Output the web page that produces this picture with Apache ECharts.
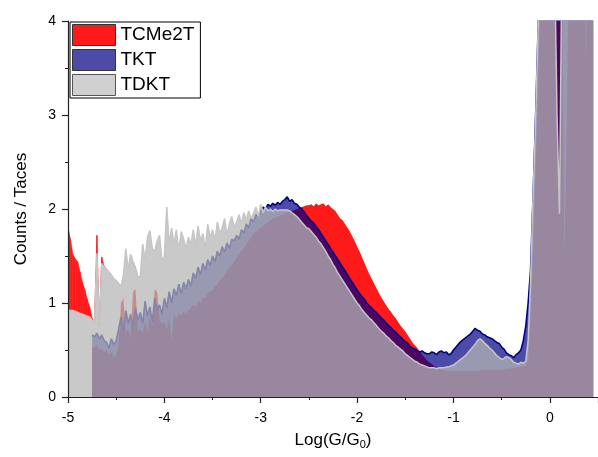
<!DOCTYPE html>
<html><head><meta charset="utf-8">
<script src="https://cdn.jsdelivr.net/npm/echarts@6/dist/echarts.min.js"></script>
<style>html,body{margin:0;padding:0;background:#fff}#c{width:598px;height:457px}</style>
</head><body><div id="c"></div>
<script>
// histogram bins: x = -5 + 0.025*i
const X_START = -5, X_STEP = 0.025;

const seriesNames = ['TCMe2T', 'TKT', 'TDKT'];

const tcme2t = [
 null,null,null,null,null,null,null,null,null,null,
 0.53,0.52,0.55,0.50,0.52,0.48,0.50,0.45,0.48,0.42,
 0.45,0.55,1.00,1.05,0.68,0.72,0.62,1.12,1.15,0.70,
 0.72,0.68,0.80,0.70,0.85,0.75,1.15,1.12,0.82,0.78,
 0.80,0.72,0.85,0.60,0.88,0.82,0.90,0.86,0.92,0.88,
 0.92,0.95,0.98,0.96,1.02,1.00,1.06,1.05,1.10,1.12,
 1.14,1.18,1.20,1.24,1.26,1.30,1.34,1.38,1.40,1.44,
 1.48,1.52,1.55,1.58,1.62,1.66,1.70,1.73,1.76,1.78,
 1.80,1.82,1.84,1.86,1.88,1.90,1.91,1.92,1.93,1.94,
 1.95,1.96,1.97,1.98,1.99,2.00,2.01,2.02,2.03,2.04,
 2.04,2.05,2.03,2.06,2.04,2.05,2.06,2.03,2.05,2.02,
 2.00,1.98,1.94,1.90,1.88,1.84,1.80,1.76,1.71,1.66,
 1.60,1.55,1.49,1.43,1.37,1.31,1.26,1.21,1.16,1.11,
 1.06,1.02,0.98,0.94,0.91,0.87,0.84,0.80,0.76,0.73,
 0.70,0.66,0.62,0.58,0.55,0.52,0.49,0.45,0.42,0.39,
 0.37,0.35,0.33,0.31,0.30,0.29,0.29,0.28,0.28,0.28,
 0.28,0.28,0.28,0.28,0.28,0.28,0.28,0.28,0.28,0.28,
 0.28,0.28,0.29,0.29,0.29,0.29,0.29,0.29,0.29,0.29,
 0.29,0.29,0.30,0.30,0.30,0.31,0.31,0.32,0.32,0.33,
 0.33,0.40,0.80,1.50,2.30,3.20,4.20,5,5,5,
 5,5,5,5,5,5,1.5,2.8,5,5,
 5,5,5,5,5,3.6,5,5,5
];
// red tops of the first bins (-5 ... -4.575), seen above the TDKT fill
const tcme2tLowTail = [
 1.81,1.68,1.52,1.47,1.44,1.33,1.22,1.14,1.04,0.96,
 0.84,0.80,1.72,0.73,1.49,1.39,1.36,1.33
];
const tkt = [
 null,null,null,null,null,null,null,null,null,null,
 0.66,0.64,0.68,0.62,0.66,0.60,0.58,0.52,0.62,0.56,
 0.60,0.72,0.85,0.70,0.92,0.78,0.88,0.74,0.95,0.82,
 0.90,0.78,1.02,0.86,0.96,0.80,1.05,0.92,0.98,0.88,
 1.05,0.95,1.12,1.00,1.15,1.08,1.20,1.10,1.22,1.15,
 1.25,1.18,1.32,1.26,1.38,1.30,1.42,1.35,1.46,1.40,
 1.50,1.44,1.55,1.50,1.60,1.54,1.64,1.58,1.68,1.66,
 1.72,1.68,1.78,1.74,1.84,1.80,1.90,1.86,1.94,1.92,
 1.98,2.02,2.00,2.05,2.03,2.06,2.04,2.07,2.05,2.08,
 2.10,2.13,2.08,2.10,2.06,2.05,2.02,2.00,1.97,1.93,
 1.90,1.87,1.85,1.81,1.78,1.74,1.70,1.66,1.62,1.58,
 1.54,1.50,1.46,1.42,1.38,1.34,1.30,1.26,1.22,1.18,
 1.14,1.10,1.07,1.04,1.00,0.97,0.95,0.92,0.90,0.87,
 0.84,0.82,0.79,0.76,0.74,0.71,0.69,0.66,0.64,0.61,
 0.59,0.57,0.54,0.52,0.51,0.49,0.48,0.49,0.47,0.46,
 0.46,0.48,0.47,0.45,0.48,0.49,0.47,0.48,0.45,0.46,
 0.50,0.53,0.56,0.59,0.61,0.63,0.65,0.67,0.70,0.73,
 0.71,0.70,0.67,0.66,0.64,0.63,0.62,0.60,0.58,0.57,
 0.53,0.51,0.47,0.45,0.44,0.42,0.45,0.47,0.50,0.60,
 0.75,1.00,1.35,2.10,2.90,3.80,4.60,5,5,5,
 5,5,5,5,5,5,5,5,5,5,
 5,5,5,5,5,5,5,5,5
];
const tdkt = [
 0.93,0.92,0.92,0.91,0.90,0.89,0.88,0.87,0.86,0.85,
 0.82,0.80,1.53,0.76,1.42,1.38,1.35,1.33,1.30,1.26,
 1.24,1.21,1.17,1.30,1.58,1.35,1.52,1.44,1.38,1.28,
 1.28,1.63,1.46,1.70,1.77,1.58,1.55,1.66,1.72,1.45,
 1.50,2.02,1.62,1.80,1.62,1.78,1.55,1.76,1.68,1.58,
 1.70,1.62,1.78,1.60,1.82,1.66,1.74,1.58,1.84,1.70,
 1.78,1.66,1.86,1.74,1.80,1.90,1.72,1.84,1.92,1.80,
 1.86,1.94,1.84,1.96,1.88,1.98,1.90,1.95,2.02,1.92,
 2.05,1.96,2.02,1.98,2.00,1.97,2.00,1.98,1.99,1.99,
 1.99,1.99,1.98,1.96,1.94,1.92,1.89,1.86,1.83,1.80,
 1.79,1.76,1.73,1.70,1.66,1.63,1.59,1.55,1.50,1.46,
 1.41,1.37,1.32,1.28,1.24,1.20,1.16,1.12,1.08,1.04,
 1.00,0.97,0.93,0.90,0.87,0.84,0.82,0.79,0.76,0.73,
 0.70,0.68,0.65,0.63,0.60,0.58,0.55,0.53,0.51,0.49,
 0.46,0.44,0.42,0.40,0.38,0.37,0.35,0.34,0.33,0.32,
 0.31,0.31,0.31,0.30,0.31,0.31,0.31,0.32,0.32,0.33,
 0.34,0.36,0.38,0.40,0.42,0.44,0.47,0.50,0.53,0.56,
 0.60,0.62,0.60,0.57,0.55,0.52,0.50,0.47,0.44,0.42,
 0.40,0.41,0.43,0.42,0.40,0.37,0.36,0.35,0.37,0.36,
 0.38,0.60,1.23,2.10,2.85,3.80,4.60,5,5,5,
 5,5,4.6,3.0,1.95,4.6,5,5,5,5,
 5,5,5,5,5,5,5,5,5
];

const xTicks = [-5, -4, -3, -2, -1, 0];
const yTicks = [0, 1, 2, 3, 4];

const xs = tdkt.map((_, i) => +(X_START + i * X_STEP).toFixed(3));
const pairs = arr => xs.map((x, i) => [x, (i < arr.length && arr[i] != null) ? arr[i] : null]);
// low-tail red band: from the TDKT level up to the red top, bin to bin
const tailItems = [];
for (let i = 0; i < tcme2tLowTail.length - 1; i++) {
  tailItems.push([xs[i], tdkt[i], Math.max(tcme2tLowTail[i], tdkt[i]),
                  xs[i + 1], tdkt[i + 1], Math.max(tcme2tLowTail[i + 1], tdkt[i + 1])]);
}

const FONT = 'Liberation Sans, Arial, sans-serif';
const AX = '#222';
const RED = '#ff1a1a', NAVY = '#000080', GREY = '#b6b6b6';

const chart = echarts.init(document.getElementById('c'), null, {renderer: 'canvas'});
chart.setOption({
  animation: false,
  backgroundColor: '#fff',
  textStyle: {fontFamily: FONT},
  grid: {left: 68, right: -7, top: 21, bottom: 60, containLabel: false},
  legend: {
    left: 70, top: 22, orient: 'vertical', icon: 'rect', z: 10,
    itemWidth: 43, itemHeight: 21, itemGap: 3,
    padding: [2, 6, 2, 2],
    borderColor: '#000', borderWidth: 1, backgroundColor: '#fff',
    textStyle: {fontFamily: FONT, fontSize: 19, color: '#000'},
    data: [
      {name: seriesNames[0], itemStyle: {color: RED, borderColor: '#333', borderWidth: 1}},
      {name: seriesNames[1], itemStyle: {color: '#4c4ca6', borderColor: '#333', borderWidth: 1}},
      {name: seriesNames[2], itemStyle: {color: '#d0d0d0', borderColor: '#555', borderWidth: 1}}
    ]
  },
  xAxis: {
    type: 'value', min: -5, max: 0.5, interval: 1, z: 6,
    name: 'Log(G/G{s|0})', nameLocation: 'middle', nameGap: 34,
    nameTextStyle: {fontFamily: FONT, fontSize: 17, color: '#000',
      rich: {s: {fontFamily: FONT, fontSize: 11, color: '#000', verticalAlign: 'bottom', padding: [8, 0, 0, 0]}}},
    axisLine: {show: true, onZero: false, lineStyle: {color: AX, width: 1.2}},
    axisTick: {show: true, length: 6, lineStyle: {color: AX, width: 1.2}},
    minorTick: {show: true, splitNumber: 2, length: 3, lineStyle: {color: AX, width: 1}},
    axisLabel: {fontFamily: FONT, fontSize: 14, color: '#000', margin: 14, showMaxLabel: false,
      formatter: v => xTicks.indexOf(v) >= 0 ? String(v) : ''},
    splitLine: {show: false}
  },
  yAxis: {
    type: 'value', min: 0, max: 4, interval: 1, z: 6,
    name: 'Counts / Taces', nameLocation: 'middle', nameGap: 38,
    nameTextStyle: {fontFamily: FONT, fontSize: 17, color: '#000'},
    axisLine: {show: true, onZero: false, lineStyle: {color: AX, width: 1.2}},
    axisTick: {show: true, length: 6, lineStyle: {color: AX, width: 1.2}},
    minorTick: {show: true, splitNumber: 2, length: 3, lineStyle: {color: AX, width: 1}},
    axisLabel: {fontFamily: FONT, fontSize: 14, color: '#000', margin: 12,
      formatter: v => yTicks.indexOf(v) >= 0 ? String(v) : ''},
    splitLine: {show: false}
  },
  series: [
    {name: seriesNames[0], type: 'line', z: 1, data: pairs(tcme2t), symbol: 'none', showSymbol: false,
     itemStyle: {color: RED}, lineStyle: {color: RED, width: 0}, areaStyle: {color: RED, opacity: 1}},
    {name: seriesNames[0], type: 'custom', z: 1, data: tailItems, encode: {x: [0, 3], y: [1, 2, 4, 5]},
     itemStyle: {color: RED}, clip: true,
     renderItem: (params, api) => {
       const a = api.coord([api.value(0), api.value(1)]);
       const b = api.coord([api.value(0), api.value(2)]);
       const c = api.coord([api.value(3), api.value(5)]);
       const d = api.coord([api.value(3), api.value(4)]);
       return {type: 'polygon', shape: {points: [a, b, c, d]},
               style: {fill: RED, stroke: RED, lineWidth: 0.6}};
     }},
    {name: seriesNames[1], type: 'line', z: 2, data: pairs(tkt), symbol: 'none', showSymbol: false,
     itemStyle: {color: NAVY}, lineStyle: {color: '#00008b', width: 1.6}, areaStyle: {color: NAVY, opacity: 0.7}},
    {name: seriesNames[2], type: 'line', z: 3, data: pairs(tdkt), symbol: 'none', showSymbol: false,
     itemStyle: {color: GREY}, lineStyle: {color: '#c6c6c6', width: 1.5}, areaStyle: {color: GREY, opacity: 0.735}}
  ]
});
</script>
</body></html>
